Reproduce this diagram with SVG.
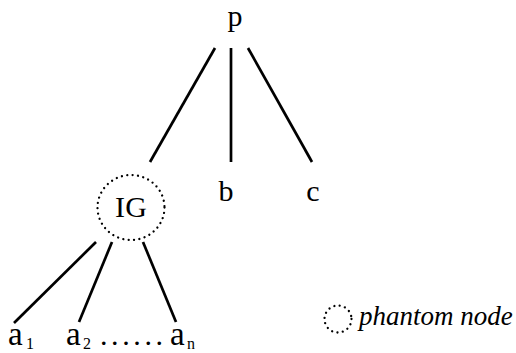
<svg xmlns="http://www.w3.org/2000/svg" width="516" height="353" viewBox="0 0 516 353">
<style>
.t{font-family:"Liberation Serif","Times New Roman",serif;fill:#000}
.m{font-size:30px}
.a{font-size:33px}
.s{font-size:16px}
.e{stroke:#000;stroke-width:2.7;fill:none}
.ph{stroke:#000;stroke-width:2.3;fill:none;stroke-linecap:round;stroke-dasharray:0.01 5.4}
</style>
<rect width="516" height="353" fill="#fff"/>
<g id="connectors">
<line class="e" x1="215" y1="48" x2="150" y2="162"/>
<line class="e" x1="231" y1="48" x2="231" y2="162"/>
<line class="e" x1="248" y1="48" x2="312" y2="162"/>
<line class="e" x1="96" y1="242" x2="14" y2="323"/>
<line class="e" x1="112" y1="242" x2="79" y2="322"/>
<line class="e" x1="143" y1="242" x2="176" y2="322"/>
</g>
<g id="node-p"><text class="t m" x="235" y="26" text-anchor="middle">p</text></g>
<g id="node-b"><text class="t m" x="226" y="201" text-anchor="middle">b</text></g>
<g id="node-c"><text class="t m" x="313" y="201" text-anchor="middle">c</text></g>
<g id="node-IG">
<ellipse class="ph" cx="131" cy="207.5" rx="33.5" ry="32.5"/>
<text class="t m" x="131" y="217" text-anchor="middle" textLength="32">IG</text>
</g>
<g id="node-a1"><text class="t a" x="8" y="345">a</text><text class="t s" x="26" y="349">1</text></g>
<g id="node-a2"><text class="t a" x="66" y="345">a</text><text class="t s" x="83" y="349">2</text></g>
<g id="dots"><text class="t m" x="100" y="345" letter-spacing="3.6">......</text></g>
<g id="node-an"><text class="t a" x="170" y="345">a</text><text class="t s" x="187" y="349">n</text></g>
<g id="legend">
<circle class="ph" cx="338" cy="319" r="13.5"/>
<text class="t" x="359" y="325" font-size="27" font-style="italic">phantom node</text>
</g>
</svg>
